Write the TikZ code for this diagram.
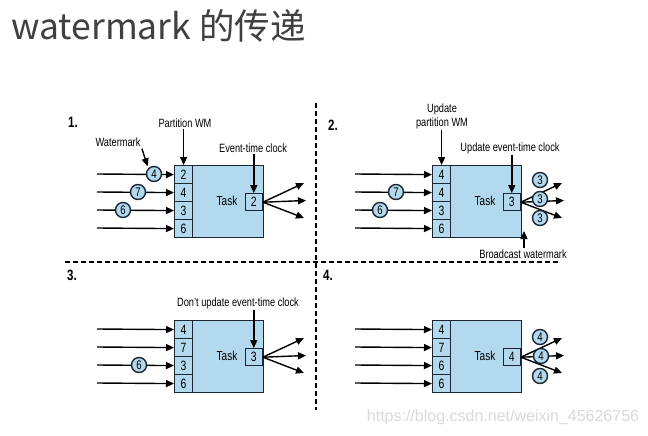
\documentclass[tikz,border=0pt]{standalone}
\usepackage{fontspec}
\setmainfont{Liberation Sans}[FakeStretch=0.77]
\newfontfamily\cjk{Noto Sans CJK SC}
\newfontfamily\wmfont{Liberation Sans}
\usetikzlibrary{arrows.meta,calc}
\definecolor{boxblue}{HTML}{B3D9EE}
\definecolor{edge}{HTML}{1C2733}
\definecolor{titlegray}{HTML}{404040}
\tikzset{
 arr/.style={-{Stealth[length=8pt,width=7pt,inset=0pt]}, line width=1.4pt, draw=black},
 taskbox/.style={draw=edge, line width=1.4pt, fill=boxblue, minimum width=89pt, minimum height=72pt, inner sep=0pt},
 cell/.style={draw=edge, line width=1.2pt, fill=boxblue, minimum width=18pt, minimum height=18pt, inner sep=0pt, font=\fontsize{13.5}{13.5}\selectfont},
 clock/.style={cell, minimum width=17pt, minimum height=17pt},
 wm/.style={circle, draw=edge, line width=1.4pt, fill=boxblue, minimum size=15pt, inner sep=0pt, font=\fontsize{12.5}{12.5}\selectfont},
 lab/.style={font=\fontsize{12}{14}\selectfont, inner sep=1pt, align=center},
 num/.style={font=\bfseries\fontsize{15}{15}\selectfont, inner sep=0pt},
 divider/.style={dash pattern=on 5pt off 3pt, line width=1.3pt}
}
\newcommand\taskpanel[8]{%
 \node[taskbox, anchor=north west] (#1box) at (#2,#3) {};
 \node[cell, anchor=north west] (#1c1) at (#2,#3) {#4};
 \node[cell, anchor=north west] (#1c2) at (#2,{#3+18}) {#5};
 \node[cell, anchor=north west] (#1c3) at (#2,{#3+36}) {#6};
 \node[cell, anchor=north west] (#1c4) at (#2,{#3+54}) {#7};
 \node[clock, anchor=east] (#1clk) at ($(#1box.east)+(-1.5,0.5)$) {#8};
 \node[lab, font=\fontsize{13}{13}\selectfont] (#1task) at ({#2+53},{#3+36}) {Task};
 \foreach \i in {1,...,4} {
   \coordinate (#1in\i) at ({#2-77},{#3+18*\i-9});
   \draw[arr] (#1in\i) -- (#1c\i.west);
 }
 \coordinate (#1o1) at ({#2+130},{#3+18});
 \coordinate (#1o2) at ({#2+132},{#3+35.5});
 \coordinate (#1o3) at ({#2+130},{#3+53});
 \foreach \i in {1,2,3} { \draw[arr] (#1clk.east) -- (#1o\i); }
}
\begin{document}
\begin{tikzpicture}[x=1pt,y=-1pt]
\useasboundingbox (0,0) rectangle (648,436);
\fill[white] (0,0) rectangle (648,436);
\node[anchor=west, font=\cjk\fontsize{35.5}{35.5}\selectfont, text=titlegray, inner sep=0pt] (title) at (11,26) {watermark 的传递};

% dividers
\coordinate (dvtop) at (316,103);
\coordinate (dvbot) at (316,410);
\coordinate (dhl) at (65,262);
\coordinate (dhr) at (560,262);
\draw[divider] (dvtop) -- (dvbot);
\draw[divider] (dhl) -- (dhr);

% panel 1
\taskpanel{p1}{174}{165}{2}{4}{3}{6}{2}
\node[num] (p1n) at (73,122) {1.};
\node[lab] (p1pwm) at (185,123) {Partition WM};
\draw[arr] (p1pwm.south -| p1c1.north) -- (p1c1.north);
\node[lab] (p1wml) at (118,142) {Watermark};
\node[wm] (p1w1) at (154,174) {4};
\node[wm] (p1w2) at (138,192) {7};
\node[wm] (p1w3) at (123,210) {6};
\draw[arr, shorten <=1pt, shorten >=2pt] (p1wml.south east) -- (p1w1.north west);
\node[lab] (p1etc) at (253,148) {Event-time clock};
\draw[arr] (p1etc.south -| p1clk.north) -- (p1clk.north);

% panel 2
\taskpanel{p2}{432}{165}{4}{4}{3}{6}{3}
\node[num] (p2n) at (333,125) {2.};
\node[lab] (p2pwm) at (442,116) {Update\\partition WM};
\draw[arr] (p2pwm.south -| p2c1.north) -- (p2c1.north);
\node[wm] (p2w2) at (396,192) {7};
\node[wm] (p2w3) at (380,210) {6};
\node[lab] (p2etc) at (510,148) {Update event-time clock};
\draw[arr] (p2etc.south -| p2clk.north) -- (p2clk.north);
\node[wm] (p2b1) at (540,180) {3};
\node[wm] (p2b2) at (540,199) {3};
\node[wm] (p2b3) at (540,218) {3};
\node[lab] (p2bc) at (523,254) {Broadcast watermark};
\coordinate (p2bct) at (524,231);
\draw[arr] (p2bc.north -| p2bct) -- (p2bct);

% panel 3
\taskpanel{p3}{174}{320}{4}{7}{3}{6}{3}
\node[num] (p3n) at (72,275) {3.};
\node[wm] (p3w3) at (139,365) {6};
\node[lab] (p3etc) at (238,303) {Don't update event-time clock};
\draw[arr] (p3etc.south -| p3clk.north) -- (p3clk.north);

% panel 4
\taskpanel{p4}{432}{320}{4}{7}{6}{6}{4}
\node[num] (p4n) at (328,275) {4.};
\node[wm] (p4b1) at (540,337) {4};
\node[wm] (p4b2) at (541,356) {4};
\node[wm] (p4b3) at (540,376) {4};

\node[font=\wmfont\fontsize{16}{16}\selectfont, text=gray!30, inner sep=0pt] (csdn) at (503,417) {https://blog.csdn.net/weixin\_45626756};
\end{tikzpicture}
\end{document}
